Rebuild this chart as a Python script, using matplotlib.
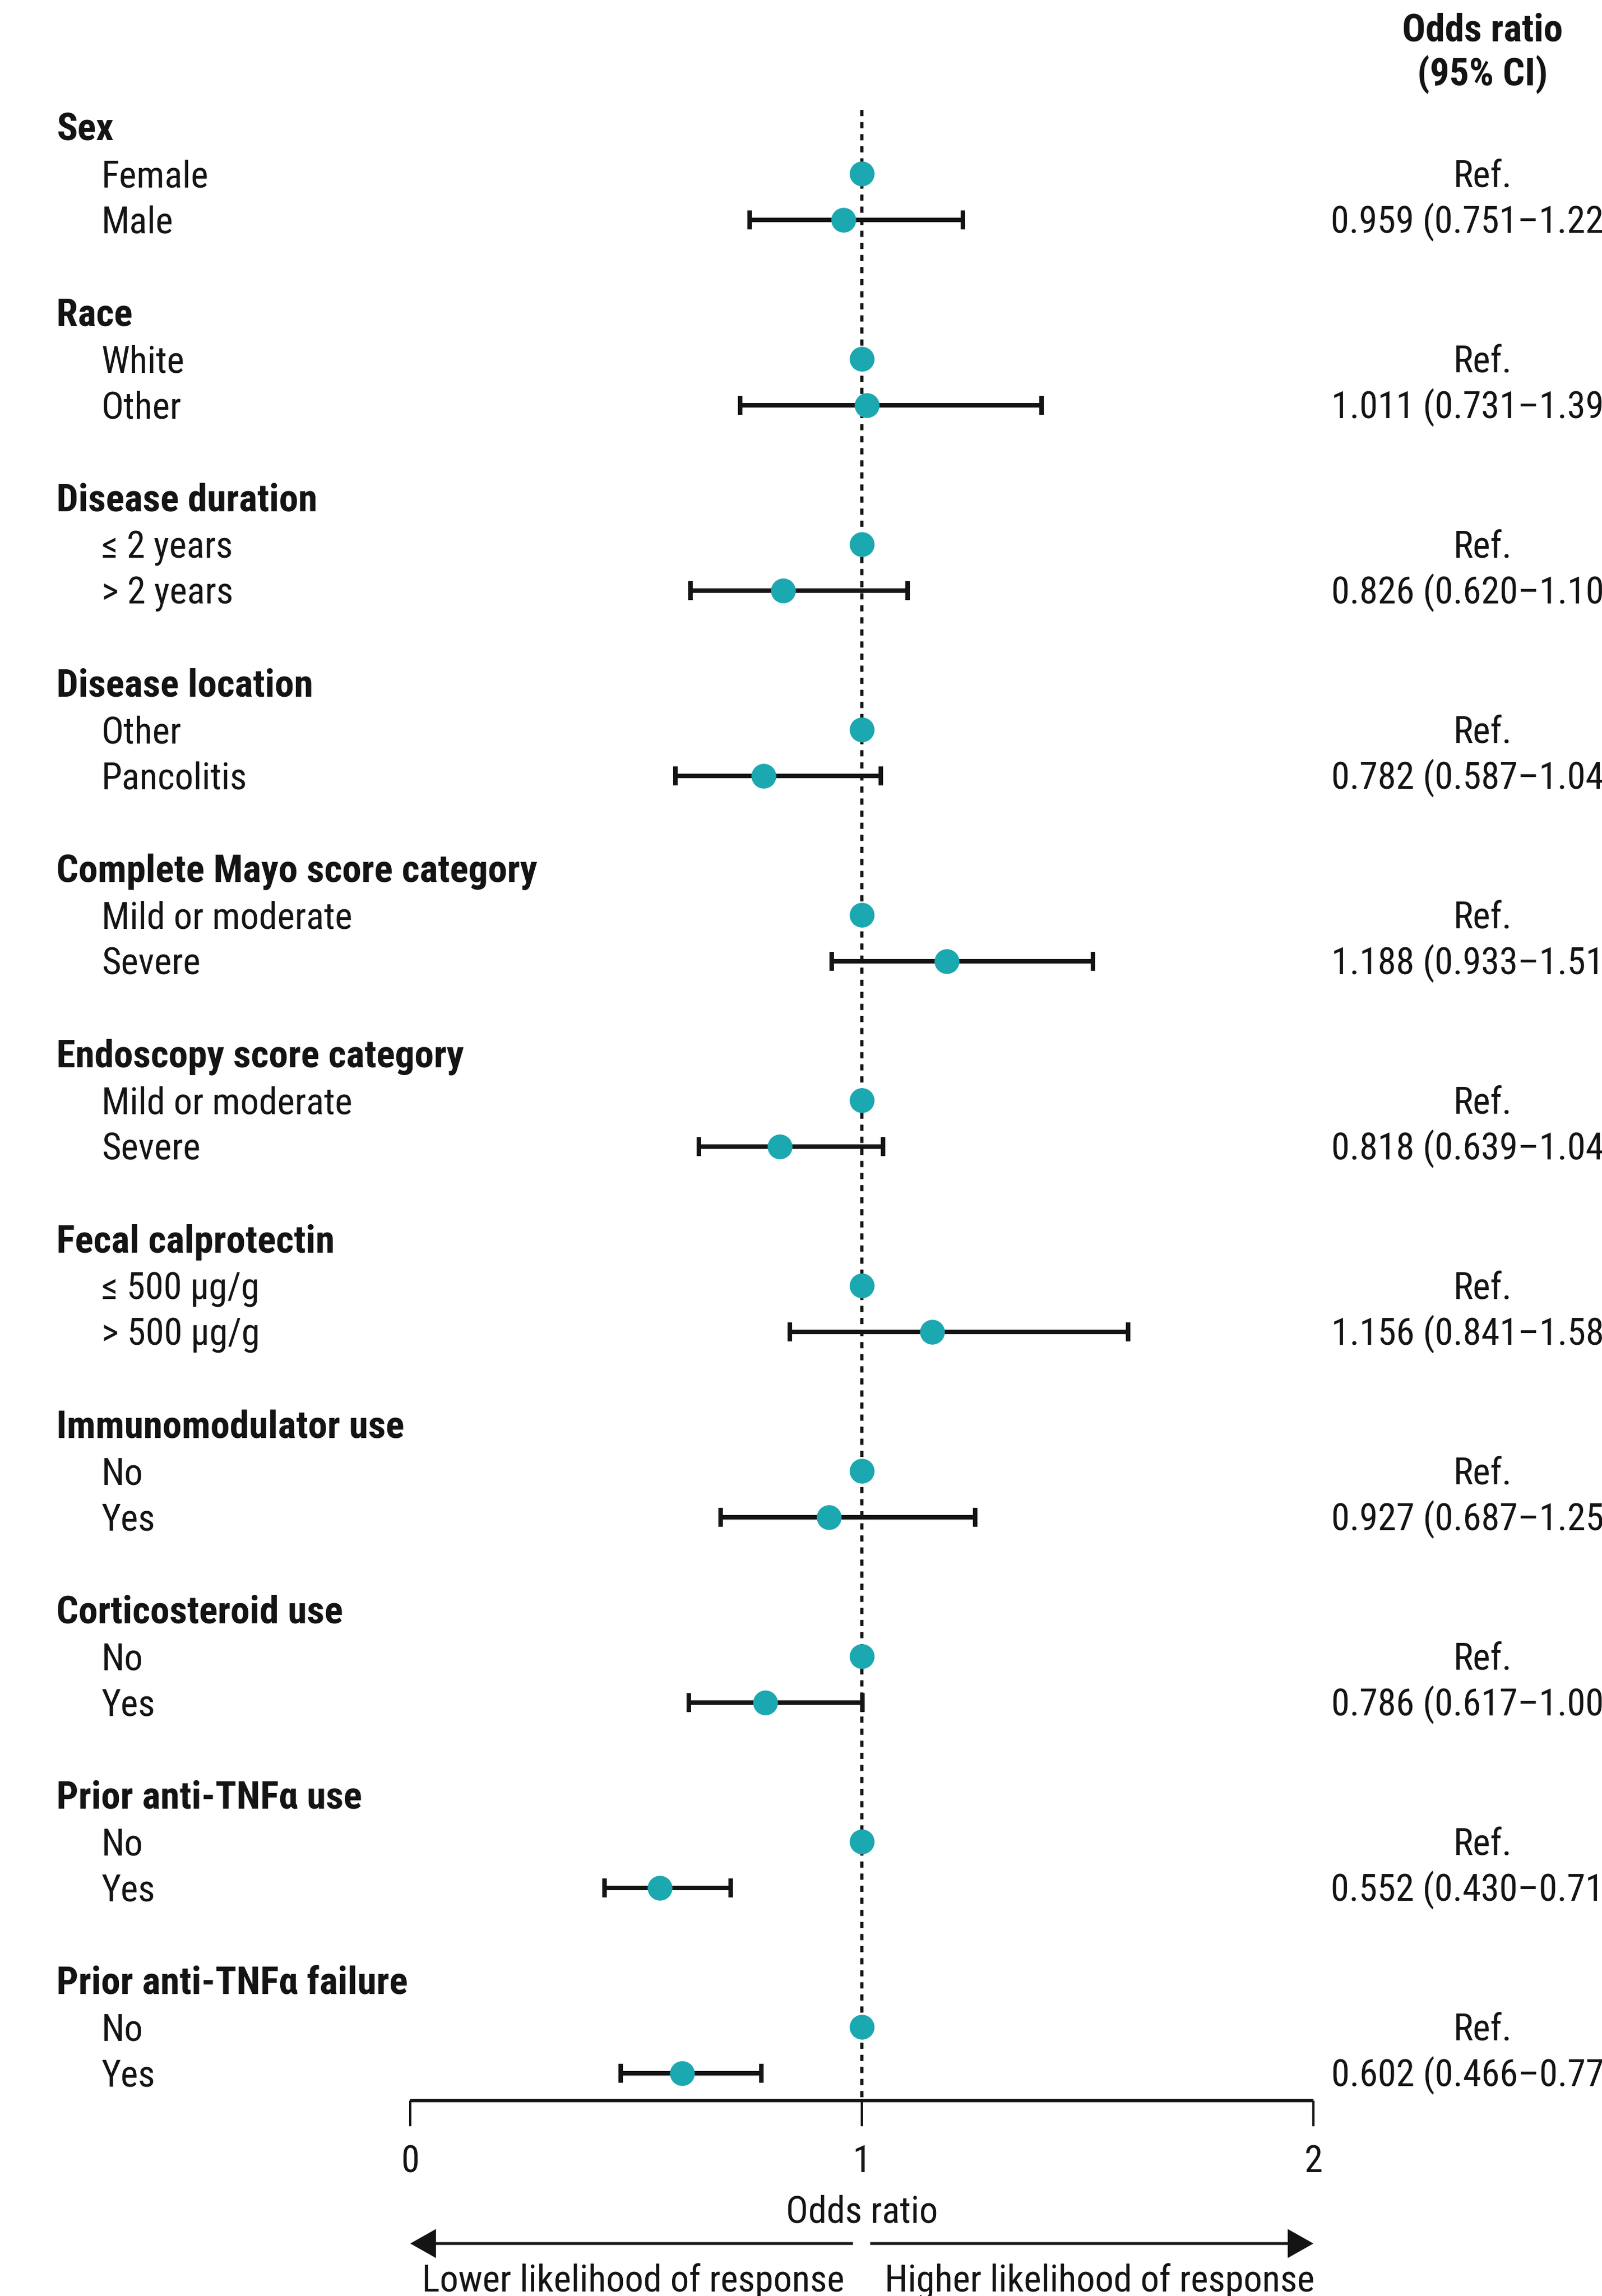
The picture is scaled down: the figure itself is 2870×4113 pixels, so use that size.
import matplotlib
matplotlib.use('Agg')
import numpy as np
import matplotlib.pyplot as plt
from matplotlib import font_manager
from matplotlib.font_manager import FontProperties

# ---- data ----
groups = ['Sex', 'Race', 'Disease duration', 'Disease location',
          'Complete Mayo score category', 'Endoscopy score category',
          'Fecal calprotectin', 'Immunomodulator use', 'Corticosteroid use',
          'Prior anti-TNF\u03b1 use', 'Prior anti-TNF\u03b1 failure']
ref_labels = ['Female', 'White', '\u2264 2 years', 'Other', 'Mild or moderate',
              'Mild or moderate', '\u2264 500 \u00b5g/g', 'No', 'No', 'No', 'No']
cmp_labels = ['Male', 'Other', '> 2 years', 'Pancolitis', 'Severe', 'Severe',
              '> 500 \u00b5g/g', 'Yes', 'Yes', 'Yes', 'Yes']
odds = [0.959, 1.011, 0.826, 0.782, 1.188, 0.818, 1.156, 0.927, 0.786, 0.552, 0.602]
ci_low = [0.751, 0.731, 0.620, 0.587, 0.933, 0.639, 0.841, 0.687, 0.617, 0.430, 0.466]
ci_high = [1.224, 1.398, 1.101, 1.042, 1.512, 1.047, 1.589, 1.251, 1.001, 0.710, 0.777]
x_ticks = [0, 1, 2]

# ---- font: look for a condensed sans on the system ----
COND = ('condensed', 'semi-condensed')
prefer = ['Roboto Condensed', 'Liberation Sans Narrow', 'Noto Sans', 'Open Sans',
          'DejaVu Sans', 'Lato', 'Inter', 'Roboto']


def find_font(bold):
    best, best_score = None, None
    for f in font_manager.fontManager.ttflist:
        if f.style != 'normal':
            continue
        fn = f.fname.lower()
        cond = str(f.stretch) in COND or 'condensed' in fn or 'narrow' in fn
        if not cond or 'extracondensed' in fn or 'semicondensed' in fn:
            continue
        if f.name not in prefer:
            continue
        try:
            w = int(f.weight)
        except (TypeError, ValueError):
            w = 700 if 'bold' in str(f.weight) else 400
        score = abs(w - (700 if bold else 400)) + 10 * prefer.index(f.name)
        if '[' in fn:  # variable font, keep static ones first
            score += 5
        if best_score is None or score < best_score:
            best, best_score = f, score
    return best


reg = find_font(False)
bld = find_font(True)
if reg is not None:
    FP = dict(fontproperties=FontProperties(fname=reg.fname))
    FPB = dict(fontproperties=FontProperties(fname=bld.fname if bld else reg.fname))
else:
    FP = dict(family='Roboto')
    FPB = dict(family='Roboto', fontweight='bold')

TEAL = '#1ca8b0'
INK = '#141414'
FS = 48
FS_BOLD = 50

fig = plt.figure(figsize=(28.7, 41.13), dpi=100)
ax = fig.add_axes([0, 0, 1, 1])
ax.axis('off')
# x in odds-ratio units, y in pixels from the top
ax.set_xlim(-735 / 809, (2870 - 735) / 809)
ax.set_ylim(4113, 0)


def txt(x, y, s, bold=False, **kw):
    props = dict(FPB if bold else FP)
    t = ax.text(x, y, s, color=INK, va='baseline', **props, **kw)
    t.set_fontsize(FS_BOLD if bold else FS)
    return t


ROW0, ROW_H = 228, 83
n = len(groups)
hdr_y = np.array([ROW0 + ROW_H * 4 * g for g in range(n)])
ref_y = hdr_y + ROW_H
cmp_y = hdr_y + 2 * ROW_H
base = 24  # baseline offset from row centre

x_head = (101 - 735) / 809
x_sub = (182 - 735) / 809
x_right = (2656 - 735) / 809
axis_y = 3763

# reference line
ax.plot([1, 1], [197, axis_y], color=INK, lw=4.1, linestyle=(0, (1.95, 1.85)),
        solid_capstyle='butt', zorder=1)

# error bars and points
odds_a = np.array(odds)
err = [odds_a - np.array(ci_low), np.array(ci_high) - odds_a]
ax.errorbar(odds_a, cmp_y, xerr=err, fmt='none', ecolor=INK, elinewidth=5.8,
            capsize=12, capthick=5.8, zorder=2)
ax.plot(odds_a, cmp_y, 'o', color=TEAL, ms=32, mec='none', zorder=3)
ax.plot(np.ones(n), ref_y, 'o', color=TEAL, ms=32, mec='none', zorder=3)

# labels
for g in range(n):
    txt(x_head, hdr_y[g] + base, groups[g], bold=True, ha='left')
    txt(x_sub, ref_y[g] + base, ref_labels[g], ha='left')
    txt(x_sub, cmp_y[g] + base, cmp_labels[g], ha='left')
    txt(x_right, ref_y[g] + base, 'Ref.', ha='center')
    txt(x_right, cmp_y[g] + base,
        f'{odds[g]:.3f} ({ci_low[g]:.3f}\u2013{ci_high[g]:.3f})', ha='center')

txt(x_right, 73, 'Odds ratio', bold=True, ha='center')
txt(x_right, 153, '(95% CI)', bold=True, ha='center')

# x axis
ax.plot([x_ticks[0], x_ticks[-1]], [axis_y, axis_y], color=INK, lw=4.1,
        solid_capstyle='butt', zorder=1)
for t in x_ticks:
    ax.plot([t, t], [axis_y, 3809], color=INK, lw=2.9, solid_capstyle='butt')
    txt(t, 3891, str(t), ha='center')
txt(1, 3982, 'Odds ratio', ha='center')

# direction arrows
arr_y = 4019
ax.arrow((1528 - 735) / 809, arr_y, -(1528 - 735) / 809, 0, width=5,
         head_width=52, head_length=46 / 809, length_includes_head=True,
         color=INK, lw=0)
ax.arrow((1559 - 735) / 809, arr_y, 2 - (1559 - 735) / 809, 0, width=5,
         head_width=52, head_length=46 / 809, length_includes_head=True,
         color=INK, lw=0)
txt((1134 - 735) / 809, 4105, 'Lower likelihood of response', ha='center')
txt((1970 - 735) / 809, 4105, 'Higher likelihood of response', ha='center')

fig.savefig('out.png', dpi=100, facecolor='white')
